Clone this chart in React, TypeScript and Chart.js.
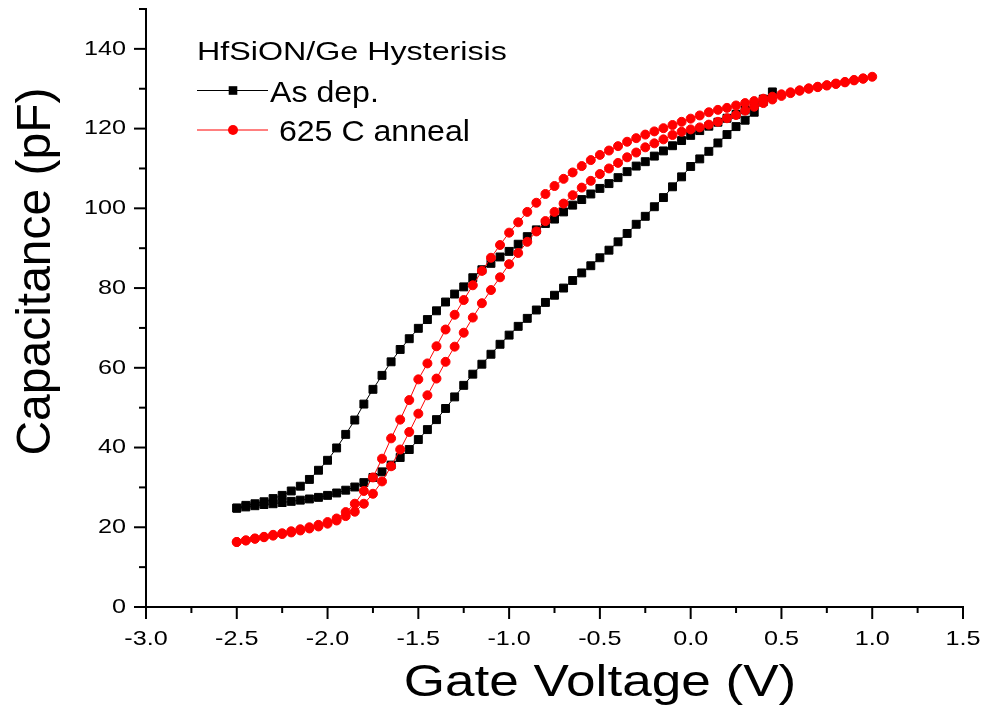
import { useEffect, useRef } from 'react';
import { Chart, registerables } from 'chart.js';

Chart.register(...registerables);

// ---------- data ----------
const VOLTAGES = [
  -2.5, -2.45, -2.4, -2.35, -2.3, -2.25, -2.2, -2.15, -2.1, -2.05,
  -2.0, -1.95, -1.9, -1.85, -1.8, -1.75, -1.7, -1.65, -1.6, -1.55,
  -1.5, -1.45, -1.4, -1.35, -1.3, -1.25, -1.2, -1.15, -1.1, -1.05,
  -1.0, -0.95, -0.9, -0.85, -0.8, -0.75, -0.7, -0.65, -0.6, -0.55,
  -0.5, -0.45, -0.4, -0.35, -0.3, -0.25, -0.2, -0.15, -0.1, -0.05,
  0.0, 0.05, 0.1, 0.15, 0.2, 0.25, 0.3, 0.35, 0.4, 0.45,
  0.5, 0.55, 0.6, 0.65, 0.7, 0.75, 0.8, 0.85, 0.9, 0.95, 1.0,
];

// As dep. : sweep up branch (-2.5 -> 0.45)
const ASDEP_UP = [
  24.8, 25.1, 25.4, 25.7, 25.9, 26.2, 26.5, 26.8, 27.1, 27.5,
  28.0, 28.6, 29.3, 30.1, 31.2, 32.5, 33.9, 35.6, 37.5, 39.5,
  42.0, 44.5, 47.0, 49.8, 52.7, 55.6, 58.4, 60.9, 63.4, 65.9,
  68.2, 70.4, 72.4, 74.5, 76.4, 78.2, 80.0, 81.9, 83.8, 85.6,
  87.6, 89.5, 91.6, 93.7, 96.0, 98.0, 100.4, 102.7, 105.4, 107.9,
  110.5, 112.4, 114.3, 116.4, 118.5, 120.5, 122.1, 124.1, 126.8, 129.2,
];
// As dep. : sweep back branch (values listed at ascending voltage)
const ASDEP_DOWN = [
  24.8, 25.5, 25.9, 26.4, 27.2, 28.0, 29.1, 30.3, 32.0, 34.3,
  36.8, 39.9, 43.3, 46.9, 50.9, 54.6, 58.1, 61.5, 64.6, 67.3,
  69.9, 72.1, 74.3, 76.5, 78.5, 80.3, 82.6, 84.6, 86.2, 87.8,
  89.2, 91.0, 92.9, 94.6, 96.2, 97.3, 99.1, 100.8, 102.2, 103.6,
  105.0, 106.2, 107.7, 109.2, 110.6, 111.7, 113.1, 114.4, 115.7, 117.0,
  118.3, 119.5, 120.6, 121.6, 122.6, 123.6, 124.7, 125.9, 127.4, 129.2,
];
// 625 C anneal : sweep up branch (-2.5 -> 1.0)
const ANNEAL_UP = [
  16.3, 16.7, 17.1, 17.5, 17.9, 18.3, 18.7, 19.2, 19.7, 20.2,
  20.9, 21.7, 22.8, 23.9, 25.9, 28.4, 31.5, 35.3, 39.5, 43.9,
  48.5, 53.1, 57.3, 61.5, 65.3, 68.8, 72.6, 76.2, 79.5, 82.7,
  86.0, 88.8, 91.6, 94.2, 96.8, 99.1, 101.2, 103.3, 105.2, 106.9,
  108.6, 110.0, 111.4, 112.8, 114.0, 115.3, 116.3, 117.3, 118.4, 119.2,
  119.8, 120.3, 121.0, 121.7, 122.6, 123.4, 124.5, 125.5, 126.4, 127.3,
  128.2, 128.9, 129.5, 130.0, 130.4, 130.8, 131.2, 131.6, 132.1, 132.5, 133.0,
];
// 625 C anneal : sweep back branch (values listed at ascending voltage)
const ANNEAL_DOWN = [
  16.3, 16.7, 17.2, 17.6, 18.1, 18.5, 19.0, 19.5, 20.0, 20.6,
  21.3, 22.2, 23.8, 25.9, 29.1, 32.5, 37.2, 42.3, 47.0, 51.9,
  57.1, 61.1, 65.4, 69.6, 73.3, 77.0, 80.7, 84.3, 87.6, 90.8,
  93.9, 96.5, 99.1, 101.4, 103.6, 105.6, 107.4, 109.0, 110.6, 112.1,
  113.4, 114.5, 115.6, 116.7, 117.6, 118.5, 119.3, 120.1, 120.9, 121.7,
  122.5, 123.3, 124.1, 124.7, 125.2, 125.8, 126.4, 126.9, 127.5, 128.0,
  128.6, 129.1, 129.6, 130.1, 130.5, 130.9, 131.3, 131.7, 132.2, 132.6, 133.0,
];

const SERIES_LABELS = ['As dep.', ' 625 C anneal'];
const LEGEND_TITLE = 'HfSiON/Ge Hysterisis';
const X_TITLE = 'Gate Voltage (V)';
const Y_TITLE = 'Capacitance (pF)';
const X_MAJOR = [-3.0, -2.5, -2.0, -1.5, -1.0, -0.5, 0.0, 0.5, 1.0, 1.5];
const X_TICK_LABELS = ['-3.0', '-2.5', '-2.0', '-1.5', '-1.0', '-0.5', '0.0', '0.5', '1.0', '1.5'];
const Y_MAJOR = [0, 20, 40, 60, 80, 100, 120, 140];
const Y_TICK_LABELS = ['0', '20', '40', '60', '80', '100', '120', '140'];

// ---------- helpers ----------
const FONT = "'Liberation Sans', Arial, sans-serif";

function loop(volts: number[], up: number[], down: number[]) {
  const pts = up.map((c, i) => ({ x: volts[i], y: c }));
  for (let i = down.length - 2; i >= 0; i--) pts.push({ x: volts[i], y: down[i] });
  return pts;
}

function drawText(
  ctx: CanvasRenderingContext2D, text: string, x: number, y: number,
  size: number, sx: number, align: CanvasTextAlign, baseline: CanvasTextBaseline, rot = 0,
) {
  ctx.save();
  ctx.translate(x, y);
  if (rot) ctx.rotate(rot);
  ctx.scale(sx, 1);
  ctx.font = `${size}px ${FONT}`;
  ctx.fillStyle = '#000';
  ctx.textAlign = align;
  ctx.textBaseline = baseline;
  ctx.fillText(text, 0, 0);
  ctx.restore();
}

const decorPlugin = {
  id: 'decor',
  afterDraw(chart: any) {
    const { ctx, chartArea, scales } = chart;
    const xs = scales.x;
    const ys = scales.y;
    ctx.save();
    ctx.strokeStyle = '#000';
    ctx.lineWidth = 2;
    // x ticks
    xs.ticks.forEach((t: any) => {
      const px = xs.getPixelForValue(t.value);
      const major = X_MAJOR.some((v) => Math.abs(v - t.value) < 1e-6);
      ctx.beginPath();
      ctx.moveTo(px, chartArea.bottom);
      ctx.lineTo(px, chartArea.bottom + (major ? 12 : 6));
      ctx.stroke();
    });
    // y ticks
    ys.ticks.forEach((t: any) => {
      const py = ys.getPixelForValue(t.value);
      const major = Y_MAJOR.some((v) => Math.abs(v - t.value) < 1e-6);
      ctx.beginPath();
      ctx.moveTo(chartArea.left, py);
      ctx.lineTo(chartArea.left - (major ? 12 : 7), py);
      ctx.stroke();
    });
    ctx.restore();

    // tick labels
    X_MAJOR.forEach((v, i) => {
      drawText(ctx, X_TICK_LABELS[i], xs.getPixelForValue(v), 639, 21, 1.2, 'center', 'middle');
    });
    Y_MAJOR.forEach((v, i) => {
      drawText(ctx, Y_TICK_LABELS[i], 126, ys.getPixelForValue(v), 21, 1.2, 'right', 'middle');
    });

    // axis titles
    drawText(ctx, X_TITLE, 600, 696, 45, 1.18, 'center', 'alphabetic');
    drawText(ctx, Y_TITLE, 50, 271.5, 48, 1, 'center', 'alphabetic', -Math.PI / 2);

    // legend
    drawText(ctx, LEGEND_TITLE, 197, 59.5, 26, 1.24, 'left', 'alphabetic');
    const rowsY = [90.5, 130];
    chart.data.datasets.forEach((ds: any, i: number) => {
      const y = rowsY[i];
      ctx.save();
      ctx.strokeStyle = ds.borderColor;
      ctx.lineWidth = 1;
      ctx.beginPath();
      ctx.moveTo(197, y);
      ctx.lineTo(268, y);
      ctx.stroke();
      ctx.fillStyle = ds.pointBackgroundColor;
      if (ds.pointStyle === 'rect') {
        ctx.fillRect(233 - 4.3, y - 4.3, 8.6, 8.6);
      } else {
        ctx.beginPath();
        ctx.arc(233, y, 5, 0, Math.PI * 2);
        ctx.fill();
      }
      ctx.restore();
      drawText(ctx, SERIES_LABELS[i], 270, y + 11, 30, 1.07, 'left', 'alphabetic');
    });
  },
};

export default function App() {
  const ref = useRef<HTMLCanvasElement | null>(null);

  useEffect(() => {
    if (!ref.current) return;
    const chart = new Chart(ref.current, {
      type: 'scatter',
      data: {
        datasets: [
          {
            label: SERIES_LABELS[0],
            data: loop(VOLTAGES, ASDEP_UP, ASDEP_DOWN),
            showLine: true,
            borderColor: '#000000',
            borderWidth: 1,
            pointStyle: 'rect',
            pointRadius: 5.6,
            pointBorderWidth: 1,
            pointBackgroundColor: '#000000',
            pointBorderColor: '#000000',
            order: 1,
          },
          {
            label: SERIES_LABELS[1],
            data: loop(VOLTAGES, ANNEAL_UP, ANNEAL_DOWN),
            showLine: true,
            borderColor: '#ff0000',
            borderWidth: 1,
            pointStyle: 'circle',
            pointRadius: 4.5,
            pointBorderWidth: 1,
            pointBackgroundColor: '#ff0000',
            pointBorderColor: '#ff0000',
            order: 0,
          },
        ],
      },
      options: {
        responsive: false,
        animation: false,
        devicePixelRatio: 1,
        layout: { padding: { top: 9, right: 22, left: 0, bottom: 0 } },
        plugins: {
          legend: { display: false },
          tooltip: { enabled: false },
          title: { display: false },
        },
        scales: {
          x: {
            type: 'linear',
            min: -3,
            max: 1.5,
            ticks: { stepSize: 0.25, display: false },
            grid: { display: false },
            border: { display: true, width: 2, color: '#000' },
            afterFit: (s: any) => { s.height = 112; },
          },
          y: {
            type: 'linear',
            min: 0,
            max: 150,
            ticks: { stepSize: 10, display: false },
            grid: { display: false },
            border: { display: true, width: 2, color: '#000' },
            afterFit: (s: any) => { s.width = 146; },
          },
        },
      },
      plugins: [decorPlugin],
    });
    return () => chart.destroy();
  }, []);

  return (
    <div style={{ position: 'fixed', left: 0, top: 0, width: 985, height: 719, background: '#fff' }}>
      <canvas ref={ref} width={985} height={719} style={{ display: 'block' }} />
    </div>
  );
}
